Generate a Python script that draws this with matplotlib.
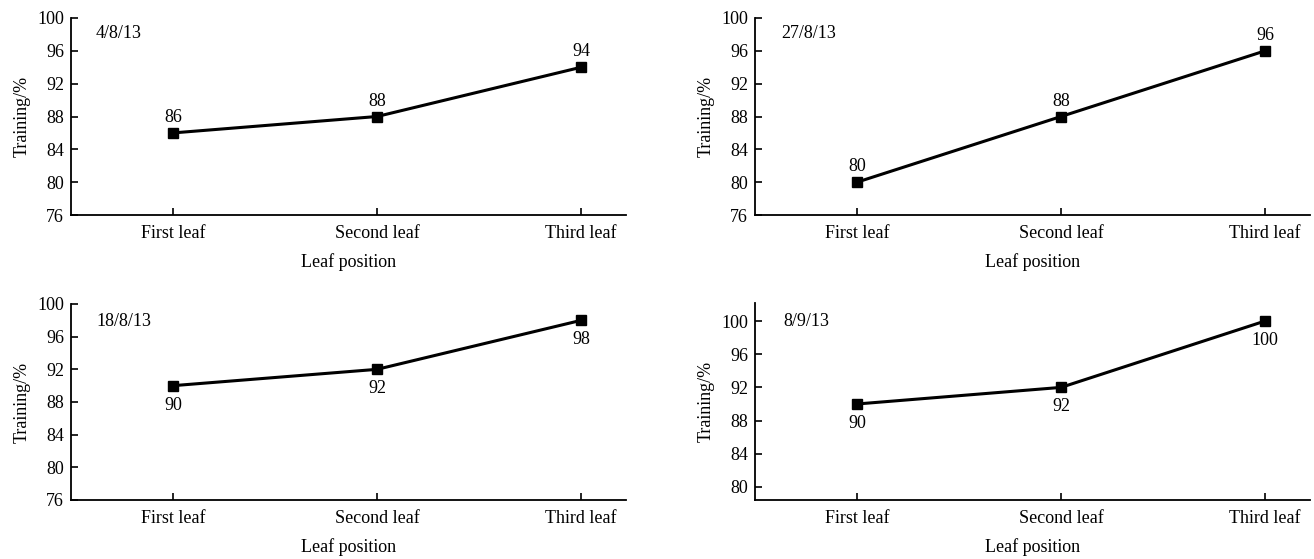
import matplotlib.pyplot as plt

plt.rcParams['font.family'] = 'Liberation Serif'
plt.rcParams['font.size'] = 13

leaves = ['First leaf', 'Second leaf', 'Third leaf']
dates = ['4/8/13', '27/8/13', '18/8/13', '8/9/13']
rate_0408 = [86, 88, 94]
rate_2708 = [80, 88, 96]
rate_1808 = [90, 92, 98]
rate_0809 = [90, 92, 100]
series = [rate_0408, rate_2708, rate_1808, rate_0809]

W, H = 1314, 559
fig = plt.figure(figsize=(W / 100, H / 100), dpi=100)

# panel boxes in pixels: left, top, right, bottom
boxes = [(71, 18, 626, 215), (755, 18, 1310, 215),
         (71, 304, 626, 500), (755, 303, 1310, 500)]
ylims = [(76, 100), (76, 100), (76, 100), (78.43, 102.17)]
yticks = [range(76, 101, 4), range(76, 101, 4), range(76, 101, 4), range(80, 101, 4)]
label_above = [True, True, False, False]
date_pos = [(96, 33), (781, 33), (96, 322), (783, 322)]

for i in range(4):
    l, t, r, b = boxes[i]
    ax = fig.add_axes([l / W, 1 - b / H, (r - l) / W, (b - t) / H])
    x = range(len(leaves))
    y = series[i]
    ax.plot(x, y, color='black', linewidth=2.2, marker='s', markersize=6.5)
    for xi, yi in zip(x, y):
        off = 11 if label_above[i] else -14
        ax.annotate(str(yi), (xi, yi), xytext=(0, off), textcoords='offset points',
                    ha='center', va='center')
    ax.set_xlim(-0.5, 2.22)
    ax.set_ylim(*ylims[i])
    ax.set_yticks(list(yticks[i]))
    ax.set_xticks(list(x))
    ax.set_xticklabels(leaves)
    for s in ['top', 'right']:
        ax.spines[s].set_visible(False)
    for s in ['left', 'bottom']:
        ax.spines[s].set_linewidth(1.3)
    ax.tick_params(axis='x', direction='in', length=5, width=1.2, pad=7.5)
    ax.tick_params(axis='y', direction='in', length=5, width=1.2, pad=5)
    ax.set_xlabel('Leaf position')
    ax.set_ylabel('Training/%')
    ax.xaxis.set_label_coords(0.5, -47 / (b - t))
    ax.xaxis.label.set_va('center')
    ax.yaxis.set_label_coords(-49 / (r - l), 0.5)
    ax.yaxis.label.set_va('center')
    dx, dy = date_pos[i]
    fig.text(dx / W, 1 - dy / H, dates[i], ha='left', va='center')

fig.savefig('out.png', dpi=100)
